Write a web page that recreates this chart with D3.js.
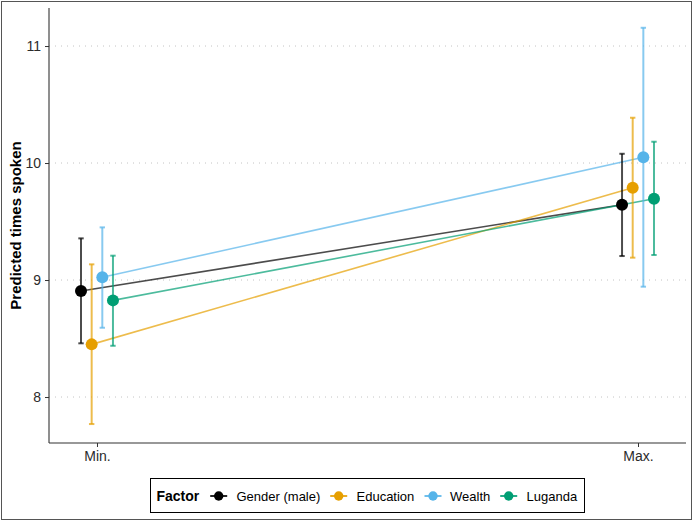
<!DOCTYPE html>
<html>
<head>
<meta charset="utf-8">
<script src="https://cdn.jsdelivr.net/npm/d3@7"></script>
<style>
  html, body { margin: 0; padding: 0; background: #fff; }
  svg { display: block; font-family: "Liberation Sans", Arial, sans-serif; }
</style>
</head>
<body>
<script>
const categories = ["Min.", "Max."];
const factors = ["Gender (male)", "Education", "Wealth", "Luganda"];
const colors = ["#000000", "#E69F00", "#56B4E9", "#009E73"];
// predicted values [Min., Max.]
const estimates = {
  "Gender (male)": [8.906, 9.644],
  "Education":     [8.450, 9.789],
  "Wealth":        [9.023, 10.049],
  "Luganda":       [8.826, 9.695]
};
const lower = {
  "Gender (male)": [8.459, 9.205],
  "Education":     [7.769, 9.191],
  "Wealth":        [8.592, 8.943],
  "Luganda":       [8.438, 9.214]
};
const upper = {
  "Gender (male)": [9.356, 10.079],
  "Education":     [9.134, 10.387],
  "Wealth":        [9.450, 11.156],
  "Luganda":       [9.208, 10.182]
};
const yTicks = [8, 9, 10, 11];
const yTitle = "Predicted times spoken";
const legendTitle = "Factor";

const W = 693, H = 521;
const panel = { left: 49, right: 686, top: 8, bottom: 443 };

const svg = d3.select("body").append("svg").attr("width", W).attr("height", H);

// outer border
svg.append("rect").attr("x", 1.5).attr("y", 1.5).attr("width", W - 3).attr("height", H - 3)
  .attr("fill", "none").attr("stroke", "#555").attr("stroke-width", 1);

const x = d3.scalePoint().domain(categories).range([panel.left, panel.right]).padding(0.0887);
const dodge = d3.scaleBand().domain(factors).range([-21.3, 21.3]);
const y = d3.scaleLinear().domain([7.607, 11.325]).range([panel.bottom, panel.top]);
const color = d3.scaleOrdinal().domain(factors).range(colors);

// gridlines
svg.append("g").selectAll("line").data(yTicks).join("line")
  .attr("x1", panel.left).attr("x2", panel.right)
  .attr("y1", d => y(d)).attr("y2", d => y(d))
  .attr("stroke", "#c4c4c4").attr("stroke-width", 1).attr("stroke-dasharray", "1,5");

// axes
const yAxis = svg.append("g").attr("transform", `translate(${panel.left},0)`)
  .call(d3.axisLeft(y).tickValues(yTicks).tickSize(4).tickPadding(4).tickFormat(d3.format("d")));
const xAxis = svg.append("g").attr("transform", `translate(0,${panel.bottom})`)
  .call(d3.axisBottom(x).tickSize(4).tickPadding(4));
[yAxis, xAxis].forEach(g => {
  g.select(".domain").attr("stroke", "#333").attr("stroke-width", 1.1);
  g.selectAll(".tick line").attr("stroke", "#333");
  g.selectAll(".tick text").attr("fill", "#2b2b2b").style("font-size", "14px")
    .style("font-family", "'Liberation Sans', Arial, sans-serif");
});
yAxis.select(".domain").attr("d", `M0,${panel.top}V${panel.bottom}`);
xAxis.select(".domain").attr("d", `M${panel.left},0H${panel.right}`);

// y title
svg.append("text")
  .attr("transform", `translate(21,${(panel.top + panel.bottom) / 2}) rotate(-90)`)
  .attr("text-anchor", "middle")
  .style("font-size", "15px").style("font-weight", "bold").attr("fill", "#000")
  .text(yTitle);

const px = (f, i) => x(categories[i]) + dodge(f) + dodge.bandwidth() / 2;

// connecting lines
const line = d3.line().x(d => d[0]).y(d => d[1]);
svg.append("g").selectAll("path").data(factors).join("path")
  .attr("d", f => line(categories.map((c, i) => [px(f, i), y(estimates[f][i])])))
  .attr("fill", "none").attr("stroke", f => color(f)).attr("stroke-opacity", 0.7).attr("stroke-width", 1.6);

// error bars
const eb = svg.append("g");
factors.forEach(f => {
  categories.forEach((c, i) => {
    const cx = px(f, i);
    const g = eb.append("g").attr("stroke", color(f)).attr("stroke-opacity", 0.7).attr("stroke-width", 2);
    g.append("line").attr("x1", cx).attr("x2", cx).attr("y1", y(lower[f][i])).attr("y2", y(upper[f][i]));
    g.append("line").attr("x1", cx - 2.7).attr("x2", cx + 2.7).attr("y1", y(lower[f][i])).attr("y2", y(lower[f][i]));
    g.append("line").attr("x1", cx - 2.7).attr("x2", cx + 2.7).attr("y1", y(upper[f][i])).attr("y2", y(upper[f][i]));
  });
});

// points
const pts = svg.append("g");
factors.forEach(f => {
  categories.forEach((c, i) => {
    pts.append("circle").attr("cx", px(f, i)).attr("cy", y(estimates[f][i])).attr("r", 6)
      .attr("fill", color(f));
  });
});

// legend
const lg = svg.append("g");
lg.append("rect").attr("x", 150.5).attr("y", 478.5).attr("width", 434).attr("height", 34)
  .attr("fill", "#fff").attr("stroke", "#000").attr("stroke-width", 1);
lg.append("text").attr("x", 156.5).attr("y", 501).style("font-size", "14px").style("font-weight", "bold")
  .attr("fill", "#000").text(legendTitle);
const keyX = [218.7, 338.7, 433, 508.7];
const textX = [236.5, 356.5, 450, 526.5];
factors.forEach((f, i) => {
  const k = lg.append("g").attr("transform", `translate(${keyX[i]},496)`);
  k.append("line").attr("x1", -8.5).attr("x2", 8.5).attr("stroke", color(f)).attr("stroke-width", 2).attr("stroke-opacity", 0.85);
  k.append("circle").attr("r", 4.7).attr("fill", color(f));
  lg.append("text").attr("x", textX[i]).attr("y", 501).style("font-size", "13px").attr("fill", "#000").text(f);
});
</script>
</body>
</html>
